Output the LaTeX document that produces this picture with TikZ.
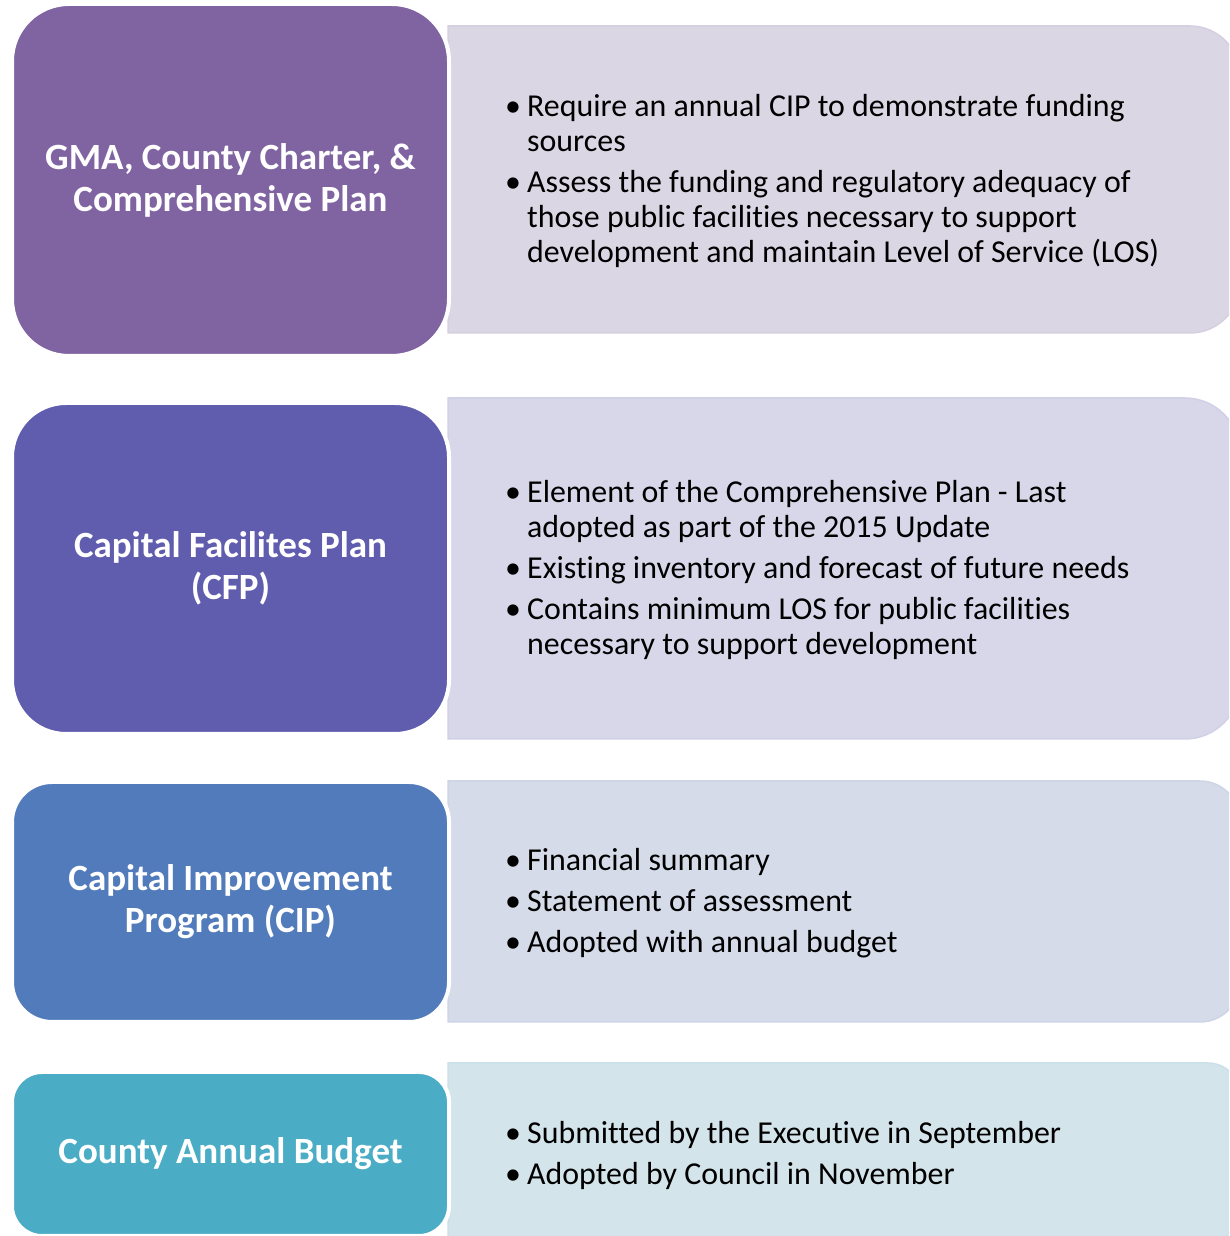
\documentclass[tikz,border=0pt]{standalone}
\usepackage{fontspec}
\setmainfont{Carlito}[Ligatures=NoCommon]
\definecolor{lA}{RGB}{128,100,162}
\definecolor{lB}{RGB}{96,93,175}
\definecolor{lC}{RGB}{82,123,187}
\definecolor{lD}{RGB}{75,172,198}
\definecolor{rA}{RGB}{218,214,228}
\definecolor{rB}{RGB}{216,215,233}
\definecolor{rC}{RGB}{213,219,233}
\definecolor{rD}{RGB}{211,228,235}
\newcommand{\myb}{\makebox[22pt][l]{•}}
\newcommand{\myi}{\hspace*{22pt}}
\tikzset{
  leftbox/.style={draw=white, line width=4pt, minimum width=437pt, text=white, align=center, inner sep=0pt,
    font=\bfseries\fontsize{37}{42}\selectfont},
  rightbox/.style={line width=1.5pt},
  itemtext/.style={anchor=west, inner sep=0pt, align=left, text=black, font=\fontsize{31.9}{35}\selectfont}
}
\begin{document}
\begin{tikzpicture}[x=1pt,y=1pt]
\useasboundingbox (0,0) rectangle (1229,1236);
\clip (0,0) rectangle (1229,1236);
% right boxes (y measured upward: Y = 1236 - y)
\filldraw[rightbox, fill=rA, draw=rA!94!lA] (448,903) -- (448,1210) -- (1190,1210) arc[start angle=90,end angle=0,radius=50pt] -- (1240,953) arc[start angle=0,end angle=-90,radius=50pt] -- cycle;
\filldraw[rightbox, fill=rB, draw=rB!94!lB] (448,497) -- (448,838) -- (1185,838) arc[start angle=90,end angle=0,radius=55pt] -- (1240,552) arc[start angle=0,end angle=-90,radius=55pt] -- cycle;
\filldraw[rightbox, fill=rC, draw=rC!94!lC] (448,214) -- (448,455) -- (1200,455) arc[start angle=90,end angle=0,radius=40pt] -- (1240,254) arc[start angle=0,end angle=-90,radius=40pt] -- cycle;
\filldraw[rightbox, fill=rD, draw=rD!94!lD] (448,-6) -- (448,173) -- (1208,173) arc[start angle=90,end angle=0,radius=32pt] -- (1240,26) arc[start angle=0,end angle=-90,radius=32pt] -- cycle;
% left boxes
\node[leftbox, fill=lA, minimum height=352pt, rounded corners=57pt] (gma) at (230.5,1056) {GMA, County Charter, \&\\Comprehensive Plan};
\node[leftbox, fill=lB, minimum height=331pt, rounded corners=54pt] (cfp) at (230.5,667.5) {Capital Facilites Plan\\(CFP)};
\node[leftbox, fill=lC, minimum height=240pt, rounded corners=40pt] (cip) at (230.5,334) {Capital Improvement\\Program (CIP)};
\node[leftbox, fill=lD, minimum height=164pt, rounded corners=30pt] (bud) at (230.5,82) {County Annual Budget};
% right texts
\node[itemtext] (gmatext) at (505,1055) {\myb Require an annual CIP to demonstrate funding\\\myi sources\\[6pt]
\myb Assess the funding and regulatory adequacy of\\\myi those public facilities necessary to support\\\myi development and maintain Level of Service (LOS)};
\node[itemtext] (cfptext) at (505,666) {\myb Element of the Comprehensive Plan - Last\\\myi adopted as part of the 2015 Update\\[6pt]
\myb Existing inventory and forecast of future needs\\[6pt]
\myb Contains minimum LOS for public facilities\\\myi necessary to support development};
\node[itemtext] (ciptext) at (505,333) {\myb Financial summary\\[6pt]
\myb Statement of assessment\\[6pt]
\myb Adopted with annual budget};
\node[itemtext] (budtext) at (505,81) {\myb Submitted by the Executive in September\\[6pt]
\myb Adopted by Council in November};
\end{tikzpicture}
\end{document}
